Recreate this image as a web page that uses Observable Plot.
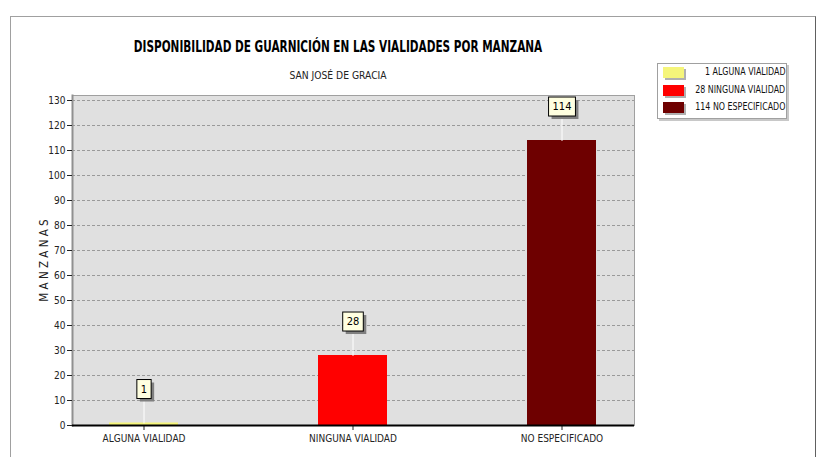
<!DOCTYPE html>
<html><head><meta charset="utf-8">
<script src="https://cdn.jsdelivr.net/npm/d3@7"></script>
<script src="https://cdn.jsdelivr.net/npm/@observablehq/plot@0.6"></script>
<style>
body{margin:0;background:#fff;font-family:"DejaVu Sans",sans-serif;font-stretch:condensed;}
#wrap{position:relative;width:825px;height:457px;overflow:hidden;}
#frame{position:absolute;left:10px;top:16px;width:804px;height:460px;border:1px solid #a0a0a0;border-right:1px solid #606060;}
#title{position:absolute;left:0;width:676px;top:37px;text-align:center;font-weight:bold;font-size:16px;color:#000;transform:scaleX(0.73);transform-origin:338px 0;}
#subtitle{position:absolute;left:0;width:676px;top:69px;text-align:center;font-size:11px;color:#222;transform:scaleX(0.93);transform-origin:338px 0;}
#legend{position:absolute;left:657px;top:63px;width:128px;height:54px;border:1px solid #a0a0a0;background:#fff;box-shadow:2px 2px 0 #c8c8c8;}
.row{position:absolute;left:5px;width:122px;height:12px;font-size:10px;color:#111;}
.sw{position:absolute;left:0;top:0;width:21px;height:11px;box-shadow:2px 2px 0 #b0b0b0;}
.lt{position:absolute;right:0;top:-1px;white-space:nowrap;transform:scaleX(0.88);transform-origin:100% 0;}
#chart{position:absolute;left:0;top:80px;}
</style></head>
<body><div id="wrap"><div id="frame"></div><div id="title"></div><div id="subtitle"></div><div id="legend"></div><div id="chart"></div></div>
<script>
const categories = ["ALGUNA VIALIDAD", "NINGUNA VIALIDAD", "NO ESPECIFICADO"];
const values = [1, 28, 114];
const colors = ["#f5f57a", "#ff0000", "#6e0000"];
const yTicks = [0,10,20,30,40,50,60,70,80,90,100,110,120,130];
const titleText = "DISPONIBILIDAD DE GUARNICIÓN EN LAS VIALIDADES POR MANZANA";
const subtitleText = "SAN JOSÉ DE GRACIA";
const yLabel = "M A N Z A N A S";

const data = categories.map((c,i)=>({cat:c, value:values[i], color:colors[i]}));

document.getElementById("title").textContent = titleText;
document.getElementById("subtitle").textContent = subtitleText;
const leg = document.getElementById("legend");
data.forEach((d,i)=>{
  const r = document.createElement("div"); r.className="row"; r.style.top = (3+i*17.5)+"px";
  r.innerHTML = `<div class="sw" style="background:${d.color}"></div><div class="lt">${d.value} ${d.cat}</div>`;
  leg.appendChild(r);
});

const font = '"DejaVu Sans",sans-serif';
const vline = {draw(ctx, l){ ctx.moveTo(0,0); ctx.lineTo(0,-l); }};

const plot = Plot.plot({
  width: 825, height: 377,
  marginLeft: 72, marginRight: 191, marginTop: 15, marginBottom: 32,
  style: {fontFamily: font, fontSize: "10px", color: "#222", background: "transparent", fontStretch: "condensed"},
  x: {domain: categories, paddingInner: 0.668, paddingOuter: 0.175, label: null},
  y: {domain: [0, 132], ticks: yTicks},
  marks: [
    Plot.frame({fill: "#e0e0e0", stroke: "#a0a0a0"}),
    Plot.gridY(yTicks, {stroke: "#9a9a9a", strokeOpacity: 1, strokeDasharray: "3,2"}),
    Plot.frame({anchor: "left", stroke: "#909090", strokeWidth: 2}),
    Plot.axisY(yTicks, {tickSize: 5, tickPadding: 2, label: null, fontSize: 10}),
    Plot.axisY({label: yLabel, labelAnchor: "center", labelArrow: "none", labelOffset: 33, fontSize: 11.5, ticks: [], tickSize: 0}),
    Plot.axisX({tickSize: 5, tickPadding: 4, label: null, fontSize: 10}),
    Plot.barY(data, {x: "cat", y: "value", fill: "color"}),
    Plot.ruleY([0], {stroke: "#000", strokeWidth: 2}),
    Plot.vector(data, {x: "cat", y: "value", length: 24, anchor: "start", stroke: "#fff", strokeWidth: 1, shape: vline}),
    Plot.text(data, {x: "cat", y: "value", text: d => String(d.value), dy: -34, fontSize: 11, fill: "#000"})
  ]
});
document.getElementById("chart").appendChild(plot);

// boxes behind value labels (last text mark)
const textGroups = plot.querySelectorAll('g[aria-label="text"]');
const tg = textGroups[textGroups.length - 1];
Array.from(tg.querySelectorAll("text")).forEach(t => {
  const b = t.getBBox();
  const tr = t.getAttribute("transform") || "";
  const px = 4, py = 3;
  const g = d3.select(tg).insert("g", () => t).attr("transform", tr);
  g.append("rect").attr("x", b.x-px+3).attr("y", b.y-py+3).attr("width", b.width+2*px).attr("height", b.height+2*py).attr("fill", "#808080");
  g.append("rect").attr("x", b.x-px).attr("y", b.y-py).attr("width", b.width+2*px).attr("height", b.height+2*py).attr("fill", "#ffffe0").attr("stroke", "#000").attr("stroke-width", 1);
});
</script></body></html>
